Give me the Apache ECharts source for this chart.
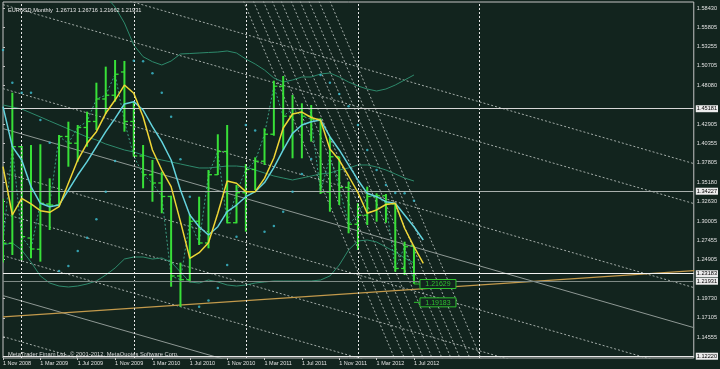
<!DOCTYPE html>
<html><head><meta charset="utf-8">
<script src="https://cdn.jsdelivr.net/npm/echarts@6/dist/echarts.min.js"></script>
<style>html,body{margin:0;padding:0;background:#12241e;}#c{width:720px;height:369px;}</style>
</head><body><div id="c"></div>
<script>
// ---- axis ticks ----
const xTickIndex = [0, 4, 8, 12, 16, 20, 24, 28, 32, 36, 40, 44];
const xTickLabels = ['1 Nov 2008','1 Mar 2009','1 Jul 2009','1 Nov 2009','1 Mar 2010','1 Jul 2010','1 Nov 2010','1 Mar 2011','1 Jul 2011','1 Nov 2011','1 Mar 2012','1 Jul 2012'];
const yTickValues = [1.58430,1.55805,1.53255,1.50705,1.48080,1.42905,1.40355,1.37805,1.35180,1.32630,1.30005,1.27455,1.24905,1.19730,1.17105,1.14555];

// ---- monthly EURUSD bars, Nov 2008 .. Jul 2012 (bar index 0..44) ----
const opens  = [1.2730,1.2706,1.3994,1.2776,1.2626,1.3230,1.3216,1.4130,1.4040,1.4250,1.4330,1.4630,1.4680,1.4990,1.4330,1.3870,1.3620,1.3510,1.3330,1.2270,1.2220,1.3000,1.2710,1.3620,1.3930,1.2980,1.3380,1.3690,1.3800,1.4160,1.4800,1.4400,1.4500,1.4400,1.4360,1.3390,1.3860,1.3450,1.2960,1.3080,1.3330,1.3340,1.3230,1.2370,1.26713];
const highs  = [1.3300,1.4714,1.4003,1.4016,1.4026,1.3572,1.4150,1.4327,1.4283,1.4461,1.4847,1.5061,1.5150,1.5137,1.4594,1.4016,1.3817,1.3661,1.3340,1.2448,1.3096,1.3327,1.3683,1.4159,1.4283,1.3483,1.3763,1.3852,1.4239,1.4874,1.4936,1.4683,1.4572,1.4550,1.4372,1.4127,1.3860,1.3527,1.3239,1.3461,1.3372,1.3363,1.3239,1.2727,1.26716];
const lows   = [1.2450,1.2550,1.2480,1.2506,1.2461,1.2883,1.3194,1.3727,1.3794,1.3994,1.4216,1.4430,1.4594,1.4194,1.3860,1.3439,1.3260,1.3106,1.2127,1.1860,1.2186,1.2683,1.2639,1.3616,1.2972,1.2972,1.2861,1.3416,1.3750,1.4140,1.3950,1.3839,1.3839,1.4061,1.3363,1.3127,1.3216,1.2839,1.2617,1.2950,1.2994,1.2980,1.2327,1.2283,1.21662];
const closes = [1.2706,1.3994,1.2794,1.2630,1.3240,1.3216,1.4130,1.4040,1.4250,1.4330,1.4630,1.4680,1.4960,1.4330,1.3870,1.3620,1.3510,1.3330,1.2270,1.2220,1.3000,1.2710,1.3620,1.3930,1.2980,1.3380,1.3690,1.3800,1.4160,1.4800,1.4400,1.4500,1.4400,1.4360,1.3390,1.3860,1.3450,1.2960,1.3080,1.3330,1.3340,1.3230,1.2370,1.2660,1.21931];

// ---- indicators (MAs run one bar ahead) ----
const maFast = [1.3727,1.3083,1.3306,1.3230,1.3141,1.3119,1.3194,1.3506,1.3816,1.4039,1.4194,1.4439,1.4616,1.4816,1.4706,1.4394,1.3950,1.3683,1.3461,1.2994,1.2506,1.2581,1.2714,1.3106,1.3536,1.3506,1.3394,1.3394,1.3572,1.3843,1.4243,1.4430,1.4456,1.4383,1.4346,1.3963,1.3816,1.3603,1.3383,1.3106,1.3150,1.3223,1.3239,1.2906,1.2661,1.2439];
const maSlow = [1.4527,1.3994,1.3816,1.3461,1.3239,1.3194,1.3216,1.3416,1.3616,1.3794,1.3994,1.4194,1.4372,1.4563,1.4594,1.4483,1.4261,1.4061,1.3816,1.3416,1.3083,1.2927,1.2816,1.2927,1.3127,1.3216,1.3327,1.3394,1.3516,1.3716,1.3950,1.4172,1.4283,1.4327,1.4350,1.4127,1.3950,1.3750,1.3550,1.3372,1.3327,1.3261,1.3239,1.3083,1.2927,1.2750];
const bbUpper = [null,null,null,null,null,null,null,null,null,null,1.6200,1.6000,1.5856,1.5643,1.5350,1.5194,1.5127,1.5083,1.5136,1.5230,1.5236,1.5243,1.5250,1.5256,1.5270,1.5243,1.5163,1.5096,1.5016,1.4910,1.4856,1.4883,1.4923,1.4923,1.4963,1.4976,1.4923,1.4856,1.4803,1.4763,1.4736,1.4763,1.4816,1.4883,1.4950];
const bbMiddle = [1.4550,1.4523,1.4496,1.4443,1.4390,1.4336,1.4283,1.4230,1.4176,1.4123,1.4083,1.4030,1.3990,1.3950,1.3923,1.3883,1.3843,1.3816,1.3790,1.3763,1.3736,1.3710,1.3710,1.3723,1.3736,1.3736,1.3723,1.3683,1.3643,1.3603,1.3576,1.3550,1.3576,1.3603,1.3630,1.3643,1.3683,1.3710,1.3750,1.3750,1.3723,1.3683,1.3630,1.3576,1.3536];
const bbLower = [1.2683,1.2710,1.2616,1.2456,1.2270,1.2176,1.2136,1.2123,1.2136,1.2163,1.2203,1.2283,1.2376,1.2496,1.2523,1.2523,1.2496,1.2510,1.2456,1.2323,1.2190,1.2176,1.2216,1.2190,1.2150,1.2136,1.2150,1.2176,1.2190,1.2203,1.2203,1.2203,1.2203,1.2203,1.2216,1.2270,1.2416,1.2616,1.2736,1.2750,1.2723,1.2656,1.2590,1.2510,1.2443];
const sar = [1.5283,1.4847,1.4714,1.4714,1.4350,1.4047,1.2336,1.2403,1.2603,1.2780,1.3026,1.3394,1.3803,null,1.5140,1.5134,1.4972,1.4714,1.4394,1.3826,1.3327,1.1860,1.1943,1.2110,1.2416,1.2794,1.4283,1.4210,1.2860,1.2936,1.3127,1.3394,1.3630,1.3830,1.4950,1.4847,1.4696,1.4532,1.4283,1.3950,1.3683,1.3483,1.3376,1.3372,1.3274];

// ---- drawn objects ----
const channelBars = [0, 74];
const channelStart = [1.6422,1.5888,1.4768,1.4235,1.3648,1.3102,1.2542,1.2008,1.1462];
const channelEnd   = [1.3767,1.3234,1.2114,1.1580,1.0994,1.0447,0.9887,0.9354,0.8807];
const channelSolid = [false,false,false,true,false,false,false,true,false];
const fanPrices = [1.6083, 1.0976];
const fanTopBar    = [25.25,26.31,27.37,28.33,29.29,30.35,31.31,32.26,33.33,34.50];
const fanBottomBar = [42.58,43.65,44.71,45.66,46.62,47.68,48.64,49.60,50.66,51.83];
const trendBars = [0, 74];
const trendPrices = [1.17244, 1.23403];
const hLevels = [1.45181, 1.34227, 1.23183, 1.21931, 1.12220];
const vSeparators = [2, 14, 26, 38, 51];
const priceTagBar = 44;
const priceTags = [1.21629, 1.19183];

const hColors = ['#d6d6d6','#a9b0ad','#f2f2f2','#7f8a86','#e6e6e6'];
const FONT = 'Liberation Sans';

const chart = echarts.init(document.getElementById('c'), null, {renderer:'canvas'});
const series = [];

channelStart.forEach((p0, k) => {
  series.push({type:'line', silent:true, symbol:'none', z:1, animation:false,
    data:[[channelBars[0], p0],[channelBars[1], channelEnd[k]]],
    lineStyle:{color: channelSolid[k] ? '#8e9894' : '#a3aca8', width:1, type: channelSolid[k] ? 'solid' : [2,2]}});
});
fanTopBar.forEach((b0, k) => {
  series.push({type:'line', silent:true, symbol:'none', z:1, animation:false,
    data:[[b0, fanPrices[0]],[fanBottomBar[k], fanPrices[1]]],
    lineStyle:{color:'#a3aca8', width:1, type:[2,2]}});
});
series.push({type:'line', silent:true, symbol:'none', z:2, animation:false,
  data:[[trendBars[0], trendPrices[0]],[trendBars[1], trendPrices[1]]],
  lineStyle:{color:'#c39a4c', width:1.2}});

[bbUpper, bbMiddle, bbLower].forEach(arr => {
  series.push({type:'line', silent:true, symbol:'none', z:2, animation:false,
    data: arr.map((v,i)=>[i, v]), connectNulls:false,
    lineStyle:{color:'#2e8a6c', width:1}});
});
series.push({type:'line', silent:true, symbol:'none', z:3, animation:false,
  data: closes.map((v,i)=>[i, v]), lineStyle:{color:'#3d9e84', width:1, type:[2,2]}});

series.push({type:'custom', z:4, silent:true, animation:false, clip:true,
  data: opens.map((o,i)=>[i, o, highs[i], lows[i], closes[i]]),
  encode:{x:0, y:[1,2,3,4]},
  renderItem: function(params, api){
    const x = api.value(0);
    const o = api.coord([x, api.value(1)]);
    const h = api.coord([x, api.value(2)]);
    const l = api.coord([x, api.value(3)]);
    const c = api.coord([x, api.value(4)]);
    const col = '#38e038';
    return {type:'group', children:[
      {type:'line', shape:{x1:h[0], y1:h[1], x2:l[0], y2:l[1]}, style:{stroke:col, lineWidth:2}},
      {type:'line', shape:{x1:o[0]-3.5, y1:o[1], x2:o[0], y2:o[1]}, style:{stroke:col, lineWidth:1.3}},
      {type:'line', shape:{x1:c[0], y1:c[1], x2:c[0]+3.5, y2:c[1]}, style:{stroke:col, lineWidth:1.3}}
    ]};
  }});

series.push({type:'line', silent:true, symbol:'none', z:5, animation:false,
  data: maSlow.map((v,i)=>[i, v]), lineStyle:{color:'#63d2dc', width:1.5}});
series.push({type:'line', silent:true, symbol:'none', z:6, animation:false,
  data: maFast.map((v,i)=>[i, v]), lineStyle:{color:'#eed536', width:1.5}});

series.push({type:'scatter', silent:true, z:6, animation:false, symbolSize:2.5,
  data: sar.map((v,i)=> v===null ? null : [i, v]).filter(d=>d),
  itemStyle:{color:'#3dbfd2'}});

series.push({type:'custom', z:8, silent:true, animation:false, clip:false,
  data: priceTags.map(p=>[priceTagBar, p]),
  renderItem: function(params, api){
    const pt = api.coord([api.value(0), api.value(1)]);
    const col = '#2fc02f';
    const txt = api.value(1).toFixed(5);
    return {type:'group', children:[
      {type:'line', shape:{x1:pt[0], y1:pt[1], x2:pt[0]+6, y2:pt[1]}, style:{stroke:col, lineWidth:1}},
      {type:'rect', shape:{x:pt[0]+6, y:pt[1]-4.5, width:36, height:9}, style:{fill:'#12241e', stroke:col, lineWidth:1}},
      {type:'text', x:pt[0]+24, y:pt[1]+0.5, style:{text:txt, fill:col, font:'7px '+FONT, align:'center', verticalAlign:'middle'}}
    ]};
  }});

series.push({type:'line', data:[], z:9, silent:true, animation:false,
  markLine:{silent:true, symbol:['none','none'], animation:false,
    data: vSeparators.map(v=>({xAxis:v, lineStyle:{color:'#e6e6e6', width:1, type:[2,2]}, label:{show:false}}))
      .concat(hLevels.map((v,k)=>({yAxis:v, lineStyle:{color:hColors[k], width:1.2, type:'solid'},
        label:{show:true, position:'end', distance:2, formatter: v.toFixed(5), backgroundColor:'#ececec', color:'#000',
          fontSize:5.6, fontFamily:FONT, padding:[1,1,0,1]}})))
  }});

chart.setOption({
  backgroundColor:'#12241e',
  animation:false,
  title:[
    {text:'EURUSD,Monthly  1.26713 1.26716 1.21662 1.21931', left:3, top:2,
      textStyle:{color:'#e6e6e6', fontSize:5.6, fontWeight:'normal', fontFamily:FONT}},
    {text:'MetaTrader Finam Ltd., \u00a9 2001-2012, MetaQuotes Software Corp.', left:3, top:346,
      textStyle:{color:'#d8d8d8', fontSize:5.8, fontWeight:'normal', fontFamily:FONT}}
  ],
  grid:{left:2, right:22, top:2, bottom:11, show:true, borderColor:'#c4c4c4', borderWidth:1, backgroundColor:'transparent', containLabel:false},
  xAxis:{type:'value', min:0, max:73.96,
    axisLine:{show:false}, splitLine:{show:false},
    axisTick:{show:true, customValues:xTickIndex, length:2, lineStyle:{color:'#c4c4c4'}},
    axisLabel:{customValues:xTickIndex, align:'left', margin:2, fontSize:5.5, color:'#e0e0e0', fontFamily:FONT,
      formatter:(v)=>{const k = xTickIndex.indexOf(Math.round(v)); return k>=0 ? xTickLabels[k] : '';}}},
  yAxis:{type:'value', position:'right', min:1.11763, max:1.5923,
    axisLine:{show:false}, splitLine:{show:false},
    axisTick:{show:true, customValues:yTickValues, length:2, lineStyle:{color:'#c4c4c4'}},
    axisLabel:{customValues:yTickValues, margin:3, fontSize:5.6, color:'#e0e0e0', fontFamily:FONT,
      formatter:(v)=>v.toFixed(5)}},
  series: series
});
</script></body></html>
